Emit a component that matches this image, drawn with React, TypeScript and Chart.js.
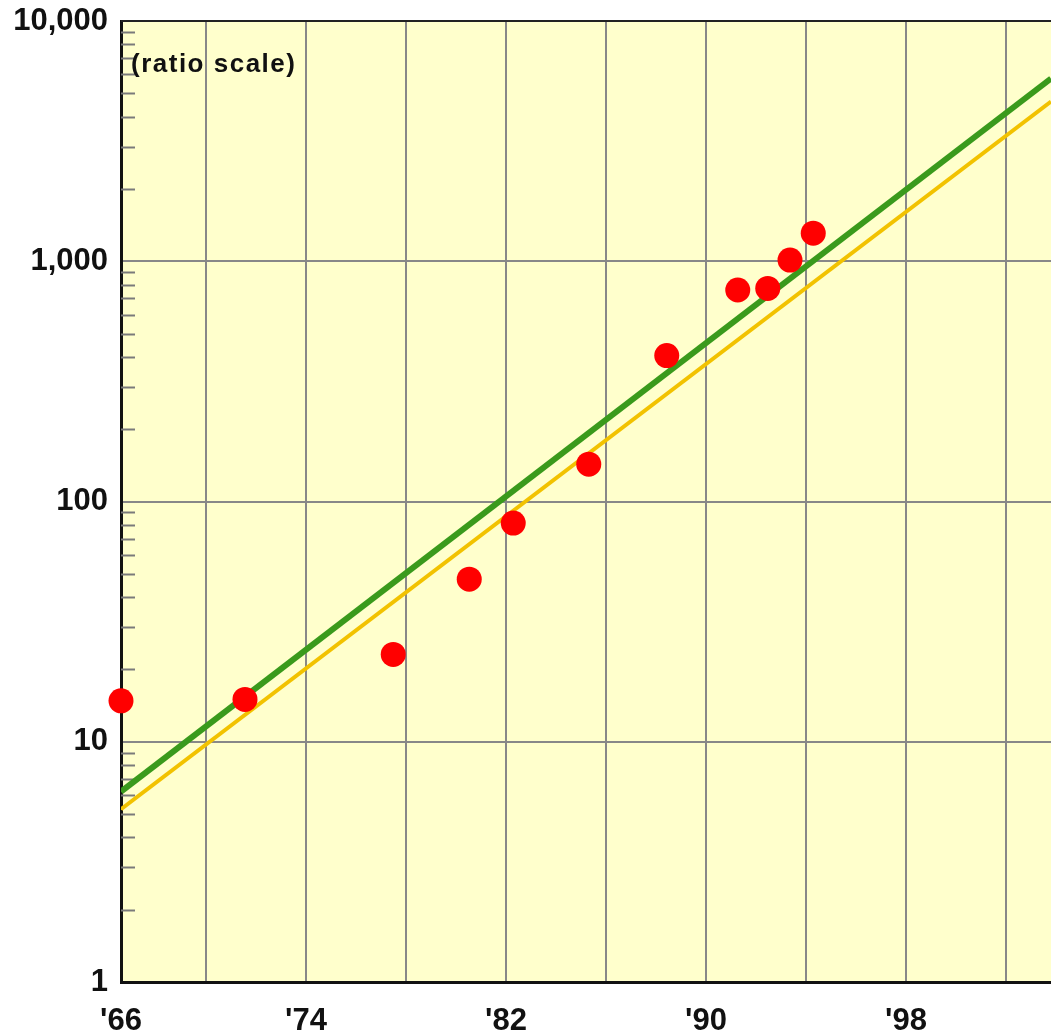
import React, { useEffect, useRef } from 'react';
import { Chart, registerables } from 'chart.js';

Chart.register(...registerables);

// Data
const pointYears = [1966.6, 1971.56, 1977.49, 1980.53, 1982.29, 1985.31, 1988.43, 1991.27, 1992.47, 1993.36, 1994.29];
const pointValues = [14.8, 15.0, 23.1, 47.5, 81.3, 143, 405, 759, 771, 1011, 1309];
const trendYears = [1966.6, 2003.8];
const greenTrend = [6.2, 5760];
const yellowTrend = [5.24, 4620];
const xTickValues = [1966.6, 1970, 1974, 1978, 1982, 1986, 1990, 1994, 1998, 2002];
const xTickLabels = ["'66", '', "'74", '', "'82", '', "'90", '', "'98", ''];
const yTickValues = [1, 10, 100, 1000, 10000];
const minorMultipliers = [2, 3, 4, 5, 6, 7, 8, 9];
const annotationText = '(ratio scale)';

const FONT = '"Liberation Sans", Arial, Helvetica, sans-serif';

const decorPlugin = {
  id: 'decor',
  beforeDraw(chart: any) {
    const { ctx, chartArea } = chart;
    ctx.save();
    ctx.fillStyle = '#ffffcc';
    ctx.fillRect(chartArea.left, chartArea.top, chartArea.right - chartArea.left, chartArea.bottom - chartArea.top);
    ctx.restore();
  },
  beforeDatasetsDraw(chart: any) {
    const { ctx, chartArea } = chart;
    const y = chart.scales.y;
    ctx.save();
    ctx.strokeStyle = '#7a7a7a';
    ctx.lineWidth = 2;
    for (let i = 0; i < yTickValues.length - 1; i++) {
      for (const m of minorMultipliers) {
        const py = Math.round(y.getPixelForValue(yTickValues[i] * m)) + 0.5;
        ctx.beginPath();
        ctx.moveTo(chartArea.left, py);
        ctx.lineTo(chartArea.left + 14, py);
        ctx.stroke();
      }
    }
    // top border
    ctx.strokeStyle = '#222';
    ctx.lineWidth = 2;
    ctx.beginPath();
    ctx.moveTo(chartArea.left, chartArea.top);
    ctx.lineTo(chartArea.right, chartArea.top);
    ctx.stroke();
    ctx.restore();
  },
  afterDraw(chart: any) {
    const { ctx, chartArea } = chart;
    ctx.save();
    ctx.fillStyle = '#111';
    ctx.font = `bold 26px ${FONT}`;
    (ctx as any).letterSpacing = '1.5px';
    ctx.textBaseline = 'alphabetic';
    ctx.textAlign = 'left';
    ctx.fillText(annotationText, chartArea.left + 10, 72);
    ctx.restore();
  },
};

const zeroPadding = (scale: any) => {
  scale.paddingTop = 0;
  scale.paddingBottom = 0;
  scale.paddingLeft = 0;
  scale.paddingRight = 0;
};

export default function App() {
  const ref = useRef<HTMLCanvasElement | null>(null);

  useEffect(() => {
    document.body.style.margin = '0';
    const canvas = ref.current;
    if (!canvas) return;
    const chart = new Chart(canvas, {
      type: 'scatter',
      data: {
        datasets: [
          {
            type: 'scatter',
            label: 'Data',
            data: pointYears.map((x, i) => ({ x, y: pointValues[i] })),
            backgroundColor: '#ff0000',
            borderColor: '#ff0000',
            borderWidth: 0,
            pointRadius: 12.5,
            pointHoverRadius: 12.5,
            clip: false as any,
            order: 0,
          },
          {
            type: 'line',
            label: 'Green trend',
            data: trendYears.map((x, i) => ({ x, y: greenTrend[i] })),
            borderColor: '#3a9a1c',
            borderWidth: 6,
            pointRadius: 0,
            showLine: true,
            fill: false,
            order: 1,
          } as any,
          {
            type: 'line',
            label: 'Yellow trend',
            data: trendYears.map((x, i) => ({ x, y: yellowTrend[i] })),
            borderColor: '#f2c200',
            borderWidth: 4,
            pointRadius: 0,
            showLine: true,
            fill: false,
            order: 2,
          } as any,
        ],
      },
      options: {
        animation: false,
        responsive: false,
        devicePixelRatio: 1,
        layout: { autoPadding: false, padding: { top: 21, left: 0, right: 0, bottom: 0 } },
        plugins: {
          legend: { display: false },
          tooltip: { enabled: false },
          title: { display: false },
        },
        scales: {
          x: {
            type: 'linear',
            min: 1966.6,
            max: 2003.8,
            afterBuildTicks: (scale: any) => {
              scale.ticks = xTickValues.map((v) => ({ value: v }));
            },
            afterFit: (scale: any) => {
              scale.height = 51;
              zeroPadding(scale);
            },
            ticks: {
              autoSkip: false,
              maxRotation: 0,
              minRotation: 0,
              padding: 21,
              color: '#111',
              font: { family: FONT, size: 31, weight: 'bold' },
              callback: (_v: any, index: number) => xTickLabels[index] ?? '',
            },
            grid: { color: '#888', lineWidth: 2, drawTicks: false },
            border: { color: '#111', width: 3 },
          },
          y: {
            type: 'logarithmic',
            min: 1,
            max: 10000,
            afterBuildTicks: (scale: any) => {
              scale.ticks = yTickValues.map((v) => ({ value: v }));
            },
            afterFit: (scale: any) => {
              scale.width = 121;
              zeroPadding(scale);
            },
            ticks: {
              autoSkip: false,
              padding: 13,
              color: '#111',
              font: { family: FONT, size: 31, weight: 'bold' },
              callback: (v: any) => Number(v).toLocaleString('en-US'),
            },
            grid: { color: '#888', lineWidth: 2, drawTicks: false },
            border: { color: '#111', width: 3 },
          },
        },
      },
      plugins: [decorPlugin],
    });
    return () => chart.destroy();
  }, []);

  return (
    <div style={{ width: 1051, height: 1033, background: '#fff' }}>
      <canvas ref={ref} width={1051} height={1033} style={{ display: 'block', width: 1051, height: 1033 }} />
    </div>
  );
}
